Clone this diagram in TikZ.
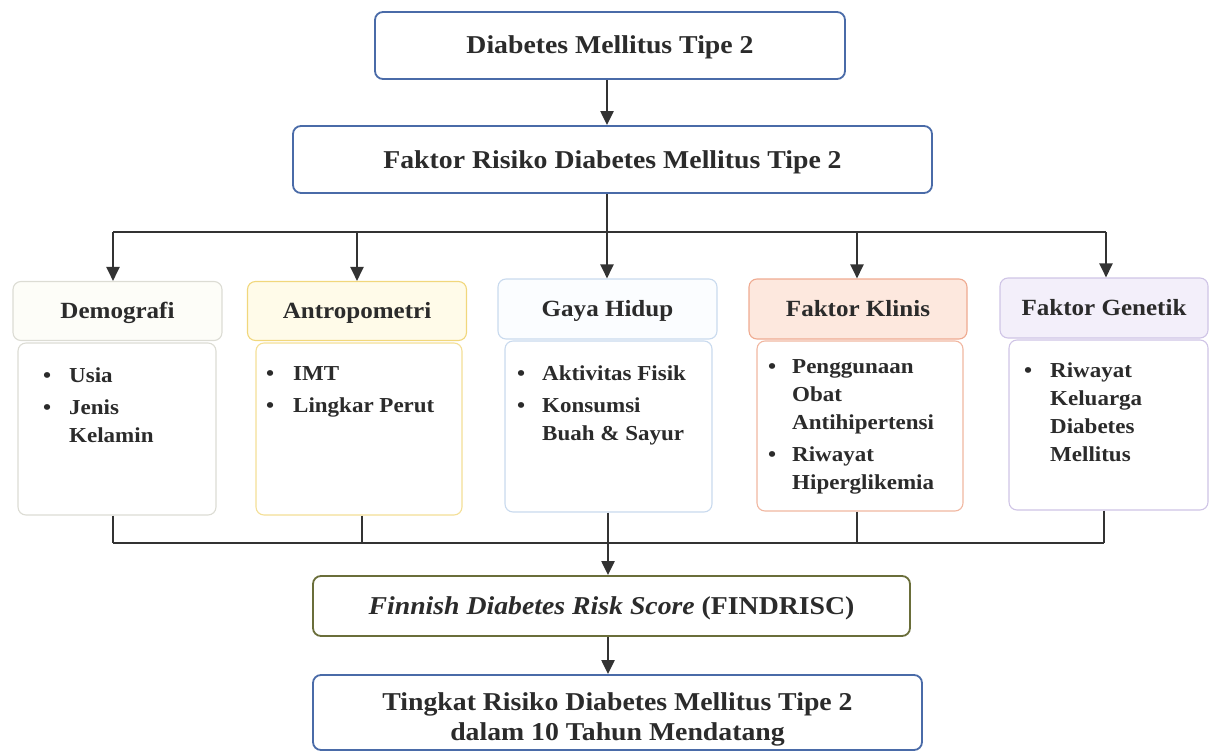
\documentclass[tikz,border=0pt]{standalone}
\usepackage{fontspec}
\setmainfont[FakeStretch=1.08]{Liberation Serif}
\usetikzlibrary{arrows.meta}
\definecolor{txt}{HTML}{2B2B2B}
\definecolor{lin}{HTML}{333333}
\definecolor{blueB}{HTML}{4A6BA8}
\definecolor{oliveB}{HTML}{6A6E3A}
\definecolor{demF}{HTML}{FDFDF8}
\definecolor{demB}{HTML}{DCDCD4}
\definecolor{antF}{HTML}{FFFBE9}
\definecolor{antB}{HTML}{F1D77C}
\definecolor{gayF}{HTML}{FBFDFF}
\definecolor{gayB}{HTML}{C9DAEE}
\definecolor{kliF}{HTML}{FDE8DE}
\definecolor{kliB}{HTML}{EFAA90}
\definecolor{genF}{HTML}{F3EFFA}
\definecolor{genB}{HTML}{CFC4E6}
\newlength{\mybw}
\newcommand{\mybul}[1]{\makebox[\mybw][l]{\textbullet}#1}
\newcommand{\mycont}[1]{\hspace*{\mybw}#1}
\begin{document}
\begin{tikzpicture}[x=1pt,y=-1pt,
  basebox/.style={rounded corners=8pt, inner sep=0pt, text=txt, align=center},
  tbox/.style={basebox, draw=blueB, line width=1.8pt, fill=white,
    text height=22pt, text depth=5pt,
    font=\fontsize{25.7}{30}\selectfont\bfseries},
  hbox/.style={basebox, line width=1.1pt, text height=20pt, text depth=4.6pt,
    font=\fontsize{23.2}{28}\selectfont\bfseries},
  cbox/.style={basebox, line width=1.1pt, fill=white},
  lst/.style={inner sep=0pt, text=txt, anchor=base west,
    font=\fontsize{21.3}{28}\selectfont\bfseries},
  conn/.style={draw=lin, line width=2.2pt},
  arr/.style={conn, -{Triangle[width=13pt,length=14pt]}}
]
\path[use as bounding box] (0,0) rectangle (1210,752);

% top boxes
\node[tbox, minimum width=470pt, minimum height=67pt] (n1) at (610,45.5) {Diabetes Mellitus Tipe 2};
\node[tbox, minimum width=639pt, minimum height=67pt] (n2) at (612.5,159.5) {Faktor Risiko Diabetes Mellitus Tipe 2};

% headers
\node[hbox, draw=demB, fill=demF, minimum width=209pt, minimum height=59pt] (h1) at (117.5,311) {Demografi};
\node[hbox, draw=antB, fill=antF, minimum width=219pt, minimum height=59pt] (h2) at (357,311) {Antropometri};
\node[hbox, draw=gayB, fill=gayF, minimum width=219pt, minimum height=60pt] (h3) at (607.5,309) {Gaya Hidup};
\node[hbox, draw=kliB, fill=kliF, minimum width=218pt, minimum height=60pt] (h4) at (858,309) {Faktor Klinis};
\node[hbox, draw=genB, fill=genF, minimum width=208pt, minimum height=60pt] (h5) at (1104,308) {Faktor Genetik};

% content boxes
\node[cbox, draw=demB, minimum width=198pt, minimum height=172pt] (c1) at (117,429) {};
\node[cbox, draw=antB!80, minimum width=206pt, minimum height=172pt] (c2) at (359,429) {};
\node[cbox, draw=gayB, minimum width=207pt, minimum height=171pt] (c3) at (608.5,426.5) {};
\node[cbox, draw=kliB!85, minimum width=206pt, minimum height=170pt] (c4) at (860,426) {};
\node[cbox, draw=genB, minimum width=199pt, minimum height=170pt] (c5) at (1108.5,425) {};

% lists
\node[lst] (l1) at (43,382) {\parbox[t]{170pt}{\setlength{\mybw}{26pt}\mybul{Usia}\\[4pt]\mybul{Jenis}\\\mycont{Kelamin}}};
\node[lst] (l2) at (266,380) {\parbox[t]{190pt}{\setlength{\mybw}{27pt}\mybul{IMT}\\[4pt]\mybul{Lingkar Perut}}};
\node[lst] (l3) at (517,380) {\parbox[t]{190pt}{\setlength{\mybw}{25pt}\mybul{Aktivitas Fisik}\\[4pt]\mybul{Konsumsi}\\\mycont{Buah \& Sayur}}};
\node[lst] (l4) at (768,373) {\parbox[t]{190pt}{\setlength{\mybw}{24pt}\mybul{Penggunaan}\\\mycont{Obat}\\\mycont{Antihipertensi}\\[4pt]\mybul{Riwayat}\\\mycont{Hiperglikemia}}};
\node[lst] (l5) at (1024,377) {\parbox[t]{180pt}{\setlength{\mybw}{26pt}\mybul{Riwayat}\\\mycont{Keluarga}\\\mycont{Diabetes}\\\mycont{Mellitus}}};

% bottom boxes
\node[tbox, draw=oliveB, minimum width=597pt, minimum height=60pt] (f) at (611.5,606) {\textit{Finnish Diabetes Risk Score} (FINDRISC)};
\node[basebox, draw=blueB, line width=1.8pt, fill=white,
  minimum width=609pt, minimum height=75pt] (g) at (617.5,712.5) {};
\node[inner sep=0pt, anchor=base, text=txt, font=\fontsize{25.7}{30}\selectfont\bfseries] (gt) at (617.5,710)
  {\begin{tabular}[t]{@{}c@{}}Tingkat Risiko Diabetes Mellitus Tipe 2\\dalam 10 Tahun Mendatang\end{tabular}};

% connectors
\coordinate (cx) at (607,0);
\coordinate (t1) at (113,232);
\coordinate (t2) at (357,232);
\coordinate (t3) at (607,232);
\coordinate (t4) at (857,232);
\coordinate (t5) at (1106,232);
\coordinate (b1) at (113,543);
\coordinate (b2) at (362,543);
\coordinate (b3) at (608,543);
\coordinate (b4) at (857,543);
\coordinate (b5) at (1104,543);

\draw[arr] (n1.south -| cx) -- (n2.north -| cx);
\draw[conn] (n2.south -| cx) -- (t3);
\draw[conn] (t1) -- (t5);
\draw[arr] (t1) -- (t1 |- h1.north);
\draw[arr] (t2) -- (t2 |- h2.north);
\draw[arr] (t3) -- (t3 |- h3.north);
\draw[arr] (t4) -- (t4 |- h4.north);
\draw[arr] (t5) -- (t5 |- h5.north);

\draw[conn] (b1 |- c1.south) -- (b1);
\draw[conn] (b2 |- c2.south) -- (b2);
\draw[conn] (b3 |- c3.south) -- (b3);
\draw[conn] (b4 |- c4.south) -- (b4);
\draw[conn] (b5 |- c5.south) -- (b5);
\draw[conn] (b1) -- (b5);
\draw[arr] (b3) -- (b3 |- f.north);
\draw[arr] (f.south -| b3) -- (g.north -| b3);
\end{tikzpicture}
\end{document}
